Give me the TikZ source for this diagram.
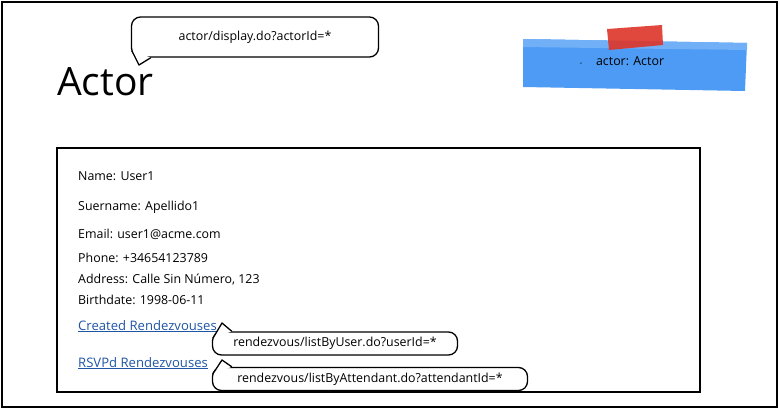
\documentclass[tikz,border=0pt]{standalone}
\usepackage{fontspec}
\setmainfont{Open Sans}
\definecolor{noteblue}{RGB}{77,155,245}
\definecolor{tapered}{RGB}{222,52,40}
\definecolor{linkblue}{RGB}{30,85,165}
\begin{document}
\begin{tikzpicture}[x=1pt, y=-1pt,
    field/.style={anchor=base west, inner sep=0pt, font=\fontsize{12.4}{14}\selectfont},
    link/.style={field, text=linkblue, font=\fontsize{13.1}{15}\selectfont},
    url/.style={draw, line width=1.3pt, fill=white, rounded corners=9pt,
        inner sep=0pt, font=\fontsize{12.4}{14}\selectfont},
    tail/.style={draw, line width=1.3pt, fill=white, line join=round}]
    \useasboundingbox (0,0) rectangle (780,410);
    % Frame
    \draw[line width=2pt] (1.5,1.5) rectangle (777,407);
    \draw[line width=2pt] (57,148) rectangle (700,392);

    % Title
    \node[anchor=base west, inner sep=0pt, font=\fontsize{39}{42}\selectfont] (title) at (57,95) {Actor};

    % Sticky note
    \fill[noteblue] (523,39) -- (747,43) -- (745,91) -- (523,87) -- cycle;
    \fill[noteblue!80!white] (523,39) -- (747,43) -- (747,50) -- (523,47) -- cycle;
    \fill[tapered, opacity=0.9] (607,29) -- (662,25) -- (663,45) -- (609,50) -- cycle;
    \node[field] (note) at (580,65) {{\tiny\textbullet}\hspace{14pt}actor: Actor};

    % Fields
    \node[field] (name) at (78,180) {Name: User1};
    \node[field] (surname) at (78,210) {Suername: Apellido1};
    \node[field] (email) at (78,238) {Email: user1@acme.com};
    \node[field] (phone) at (78,262) {Phone: +34654123789};
    \node[field] (address) at (78,283) {Address: Calle Sin Número, 123};
    \node[field] (birth) at (78,304) {Birthdate: 1998-06-11};
    \node[link] (created) at (78,330) {\underline{Created Rendezvouses}};
    \node[link] (rsvpd) at (78,367) {\underline{RSVPd Rendezvouses}};

    % Urls
    \node[url, minimum width=247pt, minimum height=40pt] (urlactor) at (255,37) {actor/display.do?actorId=*};
    \node[url, minimum width=245pt, minimum height=23pt] (urlcreated) at (335,343.5) {rendezvous/listByUser.do?userId=*};
    \node[url, minimum width=315pt, minimum height=23pt] (urlrsvpd) at (370,379) {rendezvous/listByAttendant.do?attendantId=*};

    % Tails
    \coordinate (tipactor) at (139,65);
    \coordinate (tipcreated) at (222,323);
    \coordinate (tiprsvpd) at (222,360);
    \path[tail] ([xshift=1pt,yshift=7pt]urlactor.south west) -- (tipactor) -- ([xshift=20pt]urlactor.south west);
    \path[tail] ([xshift=1pt,yshift=-7pt]urlcreated.north west) -- (tipcreated) -- ([xshift=20pt]urlcreated.north west);
    \path[tail] ([xshift=1pt,yshift=-7pt]urlrsvpd.north west) -- (tiprsvpd) -- ([xshift=20pt]urlrsvpd.north west);
\end{tikzpicture}
\end{document}
